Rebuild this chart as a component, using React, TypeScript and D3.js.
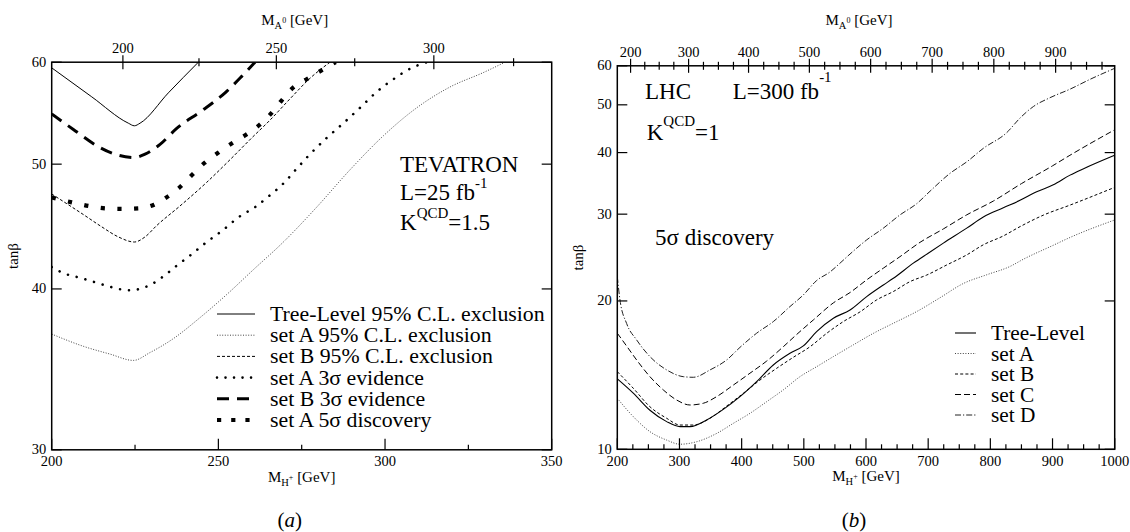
import React from 'react';
import * as d3 from 'd3';

type Pt = [number, number];

const W = 1130;
const H = 532;
const FONT = "'Liberation Serif', 'DejaVu Serif', 'Times New Roman', serif";

// M_H+^2 = M_A0^2 + offset (used for the secondary top axis)
const MASS_OFFSET2 = 9000;

// ---------------- Panel (a): TEVATRON ----------------
const tevXDomain: Pt = [200, 350];
const tevYDomain: Pt = [30, 60];
const tevXTicks = [200, 225, 250, 275, 300, 325, 350];
const tevXLabels = [200, 250, 300, 350];
const tevYTicks = [30, 40, 50, 60];
const tevTopTicks = [200, 225, 250, 275, 300, 325];
const tevTopLabels = [200, 250, 300];

const tevTreeLevel95: Pt[] = [[200, 59.4], [212, 56.4], [223, 53.8], [224.8, 53.55], [226.5, 53.8], [235, 56.8], [244, 60]];
const tevSetA95: Pt[] = [[200, 36.9], [209.5, 36.1], [217.5, 35.6], [224.5, 35.2], [229.5, 35.7], [236.5, 36.6], [244.5, 38.0], [252.5, 39.6], [260.5, 41.4], [269.5, 43.5], [279.5, 46.3], [289.5, 49.5], [299.5, 52.6], [309.5, 55.3], [319.5, 57.4], [329.5, 58.9], [336, 60]];
const tevSetB95: Pt[] = [[200, 47.4], [205, 46.5], [210, 45.6], [215, 44.7], [220, 43.9], [224.8, 43.5], [228, 43.9], [231.5, 44.8], [238.5, 46.4], [246.5, 48.4], [253.5, 50.4], [260, 52.4], [265.5, 54.1], [271.5, 56.2], [277.5, 58.3], [283.5, 60]];
const tevSetA3sigma: Pt[] = [[200, 41.6], [204, 41.1], [207, 40.9], [210, 40.7], [215.5, 40.3], [221.3, 39.95], [224, 39.9], [227, 40.05], [229.7, 40.3], [232.3, 40.7], [234.5, 41.1], [237, 41.6], [241.7, 42.5], [246.5, 43.5], [251.2, 44.4], [256.2, 45.5], [261, 46.3], [265.5, 47.3], [269.5, 48.3], [273.5, 49.6], [277.5, 50.9], [282.5, 52.4], [287.5, 53.8], [292.5, 55.3], [297.5, 56.9], [302.5, 58.2], [307.5, 59.3], [312.5, 60]];
const tevSetB3sigma: Pt[] = [[200, 54.7], [206.5, 53.2], [214.5, 51.5], [220, 50.8], [224.8, 50.6], [228, 50.9], [232.5, 51.8], [237.5, 53.3], [245, 55.0], [252, 56.8], [257, 58.5], [261, 60]];
const tevSetA5sigma: Pt[] = [[200, 47.1], [206, 46.7], [211, 46.4], [216, 46.2], [221, 46.15], [226, 46.2], [230.7, 46.5], [234.9, 47.2], [238.9, 48.1], [242.3, 49.1], [245.8, 50.1], [249.8, 51.0], [254.1, 51.9], [258.3, 52.7], [262.2, 53.6], [265.7, 54.7], [268.9, 56.0], [272.3, 57.3], [276.5, 58.2], [280.8, 59.1], [285.2, 60]];

const tevLegendLabels = [
  'Tree-Level 95% C.L. exclusion',
  'set A 95% C.L. exclusion',
  'set B 95% C.L. exclusion',
  'set A 3\u03c3 evidence',
  'set B 3\u03c3 evidence',
  'set A 5\u03c3 discovery',
];

// ---------------- Panel (b): LHC ----------------
const lhcXDomain: Pt = [200, 1000];
const lhcYDomain: Pt = [10, 60];
const lhcXTicks = d3.range(200, 1001, 25);
const lhcXLabels = [200, 300, 400, 500, 600, 700, 800, 900, 1000];
const lhcYTicks = [10, 20, 30, 40, 50, 60];
const lhcTopTicks = d3.range(200, 976, 25);
const lhcTopLabels = [200, 300, 400, 500, 600, 700, 800, 900];

const lhcTreeLevel: Pt[] = [[200, 13.9], [225.7, 13.0], [252.5, 12.0], [279.4, 11.38], [300.8, 11.12], [316.9, 11.12], [343.7, 11.47], [370.5, 12.05], [397.3, 12.79], [424.1, 13.72], [450.9, 14.83], [477.7, 15.66], [499.2, 16.21], [520.6, 17.33], [547.5, 18.45], [574.3, 19.17], [601.1, 20.41], [627.9, 21.55], [644, 22.23], [676.1, 23.86], [700, 25.0], [724.4, 26.2], [762, 28.1], [788.7, 29.6], [820.9, 30.9], [847.7, 32.0], [874.5, 33.3], [901.3, 34.4], [928.2, 36.0], [950, 37.1], [1000, 39.5]];
const lhcSetA: Pt[] = [[200, 12.69], [225.7, 11.65], [252.5, 10.86], [279.4, 10.44], [300.8, 10.24], [327.6, 10.36], [359.8, 10.77], [386.6, 11.29], [413.4, 11.83], [440.2, 12.49], [467, 13.2], [493.8, 14.04], [520.6, 14.71], [547.5, 15.42], [579.6, 16.29], [611.8, 17.19], [644, 18.02], [681.5, 19.03], [719, 20.3], [756.6, 21.7], [794.1, 22.6], [831.7, 23.5], [853, 24.3], [900, 25.9], [928, 26.9], [1000, 29.2]];
const lhcSetB: Pt[] = [[200, 14.37], [225.7, 13.3], [252.5, 12.2], [279.4, 11.56], [300.8, 11.2], [322.3, 11.2], [349.1, 11.56], [375.9, 12.24], [402.7, 12.99], [429.5, 13.82], [456.3, 14.6], [483.1, 15.37], [510, 16.15], [536.7, 17.19], [563.5, 18.16], [590.3, 19.0], [617.2, 20.1], [644, 20.9], [670.8, 21.89], [697.6, 22.57], [729.8, 23.66], [762, 24.8], [788.7, 26.0], [820.9, 27.1], [847.7, 28.3], [885.2, 29.86], [928.2, 31.3], [1000, 34.0]];
const lhcSetC: Pt[] = [[200, 17.2], [215, 16.2], [231.1, 15.18], [252.5, 14.04], [273.9, 13.2], [295.4, 12.59], [316.9, 12.3], [338.3, 12.4], [359.8, 12.79], [386.6, 13.5], [413.4, 14.27], [440.2, 15.1], [467, 16.15], [488.5, 17.1], [515.3, 18.3], [547.5, 19.82], [574.3, 20.8], [601.1, 22.07], [627.9, 23.31], [654.7, 24.6], [686.9, 26.3], [724.4, 28.0], [762, 29.9], [804.9, 31.9], [850, 34.6], [900, 37.6], [928, 39.5], [1000, 44.5]];
const lhcSetD: Pt[] = [[200, 22.4], [204.3, 20.1], [215, 18.0], [231.1, 16.67], [252.5, 15.42], [279.4, 14.49], [306.2, 14.04], [322.3, 14.0], [349.1, 14.49], [375.9, 15.18], [397.3, 16.1], [424.1, 17.2], [450.9, 18.16], [477.7, 19.48], [499.2, 20.57], [520.6, 22.0], [542.1, 22.9], [558.2, 23.86], [574.3, 24.9], [601.1, 26.6], [627.9, 28.1], [654.7, 29.9], [681.5, 31.5], [703, 33.4], [735.1, 36.3], [762, 38.3], [788.7, 40.8], [826.3, 43.9], [847.7, 47.0], [869.2, 49.6], [896, 51.7], [928.2, 53.8], [960, 56.3], [1000, 59.3]];

const lhcLegendLabels = ['Tree-Level', 'set A', 'set B', 'set C', 'set D'];

// ---------------- styles ----------------
type Style = { width: number; dash?: string; cap?: 'butt' | 'round' | 'square'; color?: string };

const tevStyles: Style[] = [
  { width: 1 },
  { width: 1, dash: '1,1.6', color: '#444' },
  { width: 1, dash: '3,2' },
  { width: 2.6, dash: '0.01,9', cap: 'round' },
  { width: 3, dash: '12,8' },
  { width: 4.2, dash: '4.2,12.5' },
];
const tevLegendStyles: Style[] = [
  { width: 1 },
  { width: 1, dash: '1,1.6', color: '#444' },
  { width: 1, dash: '3,2' },
  { width: 2.6, dash: '0.01,8.5', cap: 'round' },
  { width: 3, dash: '12,8' },
  { width: 4.2, dash: '4.2,10' },
];
const lhcStyles: Style[] = [
  { width: 1.1 },
  { width: 1, dash: '1,1.6', color: '#444' },
  { width: 1, dash: '3,2.2' },
  { width: 1, dash: '6,3' },
  { width: 1, dash: '6,2,1.2,2', color: '#222' },
];

type PanelCfg = {
  id: string;
  left: number; right: number; top: number; bottom: number;
  xDomain: Pt; yDomain: Pt;
  xTicks: number[]; xLabels: number[]; yTicks: number[];
  topTicks: number[]; topLabels: number[];
  series: Pt[][]; styles: Style[]; legendStyles: Style[];
  legendLabels: string[];
  legend: { x0: number; x1: number; tx: number; y0: number; dy: number; size: number };
  caption: string;
};

const tevCfg: PanelCfg = {
  id: 'a',
  left: 51.7, right: 551.7, top: 62.2, bottom: 449.8,
  xDomain: tevXDomain, yDomain: tevYDomain,
  xTicks: tevXTicks, xLabels: tevXLabels, yTicks: tevYTicks,
  topTicks: tevTopTicks, topLabels: tevTopLabels,
  series: [tevTreeLevel95, tevSetA95, tevSetB95, tevSetA3sigma, tevSetB3sigma, tevSetA5sigma],
  styles: tevStyles, legendStyles: tevLegendStyles,
  legendLabels: tevLegendLabels,
  legend: { x0: 217, x1: 255, tx: 270, y0: 314, dy: 21.2, size: 21.8 },
  caption: 'a',
};

const lhcCfg: PanelCfg = {
  id: 'b',
  left: 617.3, right: 1114.7, top: 65.8, bottom: 449.3,
  xDomain: lhcXDomain, yDomain: lhcYDomain,
  xTicks: lhcXTicks, xLabels: lhcXLabels, yTicks: lhcYTicks,
  topTicks: lhcTopTicks, topLabels: lhcTopLabels,
  series: [lhcTreeLevel, lhcSetA, lhcSetB, lhcSetC, lhcSetD],
  styles: lhcStyles, legendStyles: lhcStyles,
  legendLabels: lhcLegendLabels,
  legend: { x0: 955, x1: 976, tx: 991, y0: 333, dy: 20.5, size: 21.3 },
  caption: 'b',
};

function Panel({ cfg }: { cfg: PanelCfg }) {
  const x = d3.scaleLinear().domain(cfg.xDomain).range([cfg.left, cfg.right]);
  const y = d3.scaleLog().domain(cfg.yDomain).range([cfg.bottom, cfg.top]);
  const topX = (ma: number) => x(Math.sqrt(ma * ma + MASS_OFFSET2));
  const line = d3
    .line<Pt>()
    .x((d) => x(d[0]))
    .y((d) => y(d[1]))
    .curve(d3.curveMonotoneX);
  const cx = (cfg.left + cfg.right) / 2;
  const cy = (cfg.top + cfg.bottom) / 2;
  const clipId = `clip-${cfg.id}`;
  const isMajor = (v: number, list: number[]) => list.indexOf(v) >= 0;

  return (
    <g>
      <defs>
        <clipPath id={clipId}>
          <rect x={cfg.left} y={cfg.top} width={cfg.right - cfg.left} height={cfg.bottom - cfg.top} />
        </clipPath>
      </defs>
      {/* curves */}
      <g clipPath={`url(#${clipId})`}>
        {cfg.series.map((s, i) => {
          const st = cfg.styles[i];
          return (
            <path
              key={i}
              d={line(s) || ''}
              fill="none"
              stroke={st.color || '#000'}
              strokeWidth={st.width}
              strokeDasharray={st.dash}
              strokeLinecap={st.cap || 'butt'}
            />
          );
        })}
      </g>
      {/* frame */}
      <rect
        x={cfg.left}
        y={cfg.top}
        width={cfg.right - cfg.left}
        height={cfg.bottom - cfg.top}
        fill="none"
        stroke="#000"
        strokeWidth={1.5}
      />
      {/* bottom ticks */}
      {cfg.xTicks.map((t) => {
        const major = isMajor(t, cfg.xLabels);
        return (
          <line key={`bx${t}`} x1={x(t)} x2={x(t)} y1={cfg.bottom} y2={cfg.bottom - (major ? 11 : 5)} stroke="#000" strokeWidth={1.2} />
        );
      })}
      {cfg.xLabels.map((t) => (
        <text key={`bl${t}`} x={x(t)} y={cfg.bottom + 16.5} textAnchor="middle" fontSize={14.5} fontFamily={FONT}>
          {t}
        </text>
      ))}
      {/* top ticks (M_A0) */}
      {cfg.topTicks.map((t) => {
        const major = isMajor(t, cfg.topLabels);
        const len = major ? 7 : 4;
        return (
          <line key={`tx${t}`} x1={topX(t)} x2={topX(t)} y1={cfg.top - len} y2={cfg.top + len} stroke="#000" strokeWidth={1.2} />
        );
      })}
      {cfg.topLabels.map((t) => (
        <text key={`tl${t}`} x={topX(t)} y={cfg.top - 9} textAnchor="middle" fontSize={14.5} fontFamily={FONT}>
          {t}
        </text>
      ))}
      {/* y ticks */}
      {cfg.yTicks.map((t) => (
        <g key={`y${t}`}>
          <line x1={cfg.left} x2={cfg.left + 10} y1={y(t)} y2={y(t)} stroke="#000" strokeWidth={1.2} />
          <line x1={cfg.right} x2={cfg.right - 10} y1={y(t)} y2={y(t)} stroke="#000" strokeWidth={1.2} />
          <text x={cfg.left - 5.5} y={y(t) + 4.5} textAnchor="end" fontSize={14.5} fontFamily={FONT}>
            {t}
          </text>
        </g>
      ))}
      {/* axis titles */}
      <text x={cx} y={cfg.bottom + 32} textAnchor="middle" fontSize={15} fontFamily={FONT}>
        M<tspan dy={4} fontSize={10.5}>H</tspan>
        <tspan dy={-6} fontSize={8}>+</tspan>
        <tspan dy={2} fontSize={15}> [GeV]</tspan>
      </text>
      <text x={cx - 7} y={25} textAnchor="middle" fontSize={15} fontFamily={FONT}>
        M<tspan dy={4} fontSize={10.5}>A</tspan>
        <tspan dy={-6} fontSize={8}>0</tspan>
        <tspan dy={2} fontSize={15}> [GeV]</tspan>
      </text>
      <text
        transform={`translate(${cfg.left - 34},${cy}) rotate(-90)`}
        textAnchor="middle"
        fontSize={15}
        fontFamily={FONT}
      >
        tan{'\u03b2'}
      </text>
      {/* legend */}
      {cfg.legendLabels.map((lab, i) => {
        const st = cfg.legendStyles[i];
        const ly = cfg.legend.y0 + i * cfg.legend.dy;
        return (
          <g key={`lg${i}`}>
            <line
              x1={cfg.legend.x0}
              x2={cfg.legend.x1}
              y1={ly}
              y2={ly}
              stroke={st.color || '#000'}
              strokeWidth={st.width}
              strokeDasharray={st.dash}
              strokeLinecap={st.cap || 'butt'}
            />
            <text x={cfg.legend.tx} y={ly + 7} fontSize={cfg.legend.size} fontFamily={FONT}>
              {lab}
            </text>
          </g>
        );
      })}
      {/* caption */}
      <text x={cx - 12} y={527} textAnchor="middle" fontSize={21} fontFamily={FONT}>
        (<tspan fontStyle="italic">{cfg.caption}</tspan>)
      </text>
    </g>
  );
}

export default function App() {
  return (
    <svg
      width={W}
      height={H}
      viewBox={`0 0 ${W} ${H}`}
      style={{ position: 'absolute', left: 0, top: 0, background: '#fff' }}
    >
      <rect x={0} y={0} width={W} height={H} fill="#fff" />
      <Panel cfg={tevCfg} />
      <Panel cfg={lhcCfg} />
      {/* panel (a) annotations */}
      <g fontFamily={FONT} fontSize={23}>
        <text x={400} y={171.7}>TEVATRON</text>
        <text x={400} y={200}>
          L=25 fb<tspan dy={-12} fontSize={15}>-1</tspan>
        </text>
        <text x={400} y={230}>
          K<tspan dy={-12} fontSize={15}>QCD</tspan>
          <tspan dy={12}>=1.5</tspan>
        </text>
      </g>
      {/* panel (b) annotations */}
      <g fontFamily={FONT} fontSize={23}>
        <text x={645} y={99.3}>LHC</text>
        <text x={732.7} y={99.3}>
          L=300 fb<tspan dy={-17} fontSize={15}>-1</tspan>
        </text>
        <text x={646.7} y={140}>
          K<tspan dy={-14} fontSize={15}>QCD</tspan>
          <tspan dy={14}>=1</tspan>
        </text>
        <text x={655} y={245}>5{'\u03c3'} discovery</text>
      </g>
    </svg>
  );
}
